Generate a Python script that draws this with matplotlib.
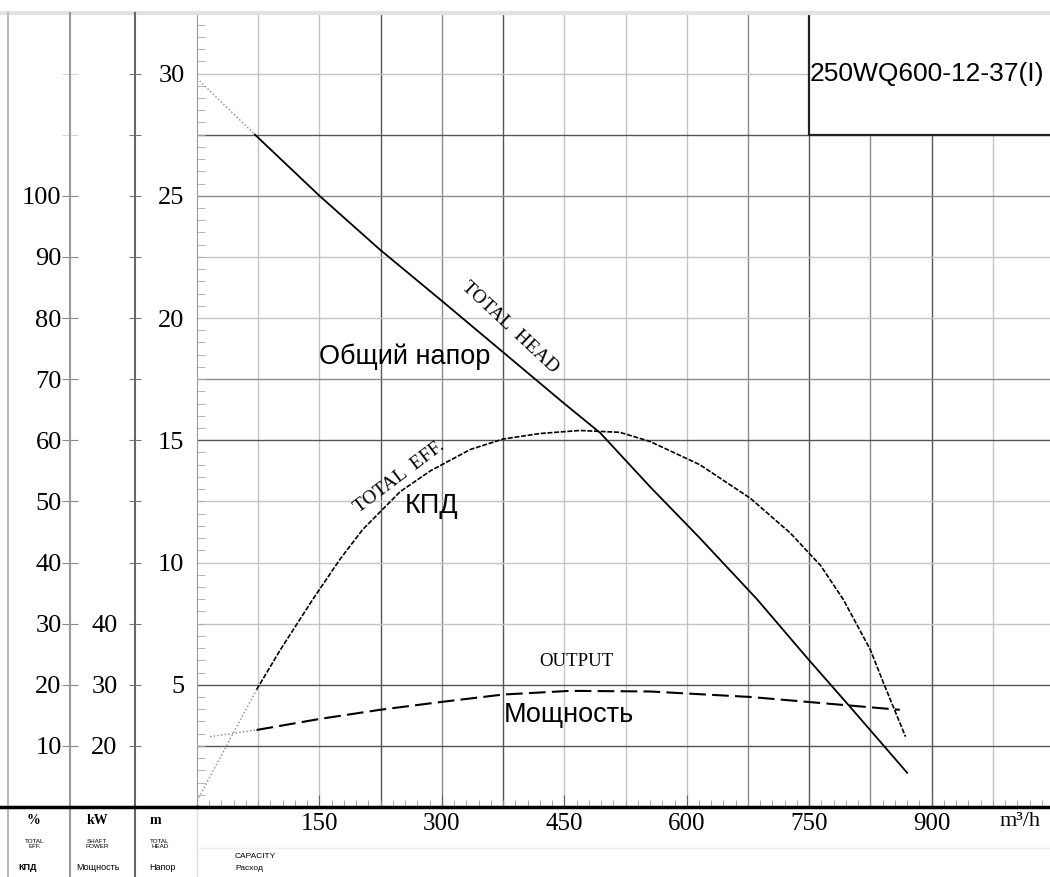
#%%
"""
250WQ600-12-37(I) pump curve: head, efficiency and power vs capacity.
"""

#%%

import matplotlib.pyplot as plt
from matplotlib.ticker import MultipleLocator, FixedLocator

# Head curve (m)
flow_head = [0, 71, 150, 224, 300, 375, 450, 494, 555, 616, 686, 750, 800, 870]
head = [29.8, 27.5, 25.0, 22.8, 20.7, 18.6, 16.5, 15.3, 13.1, 11.0, 8.5, 6.0, 4.1, 1.4]

# Efficiency curve (%)
flow_eff = [0, 73, 102, 142, 175, 203, 249, 286, 335, 375, 420, 469, 518, 555,
            616, 678, 727, 764, 792, 825, 841, 868]
eff = [1, 19.2, 25.7, 34.0, 40.5, 45.4, 51.6, 55.0, 58.5, 60.2, 61.1, 61.6, 61.3, 59.8,
       56.0, 50.5, 44.8, 39.5, 33.9, 25.7, 20.3, 11.5]

# Power curve (kW)
flow_pow = [16, 73, 150, 224, 300, 375, 457, 555, 678, 800, 861]
power = [21.5, 22.6, 24.4, 25.9, 27.2, 28.4, 29.0, 28.9, 28.0, 26.6, 25.9]

# Axis ticks
flow_ticks = [150, 300, 450, 600, 750, 900]
head_ticks = [5, 10, 15, 20, 25, 30]
eff_ticks = [10, 20, 30, 40, 50, 60, 70, 80, 90, 100]
kw_ticks = [20, 30, 40]

model = '250WQ600-12-37(I)'

# darker grid lines
dark_x = [225, 375, 750, 900]
mid_x = [300, 675, 825]
dark_y = [2.5, 5, 15, 27.5]
mid_y = [17.5, 25]

SERIF = 'Liberation Serif'
SANS = 'Liberation Sans'


# scales: eff and kW share the head axis
def eff_to_h(e):
    return e / 4.0


def h_to_eff(h):
    return h * 4.0


def kw_to_h(p):
    return (p - 10) / 4.0


def h_to_kw(h):
    return h * 4.0 + 10


#%%

W, H = 1050, 877
fig = plt.figure(figsize=(W / 100, H / 100), dpi=100)
ax = fig.add_axes([197 / W, (H - 807) / H, 853 / W, 794.6 / H])
ax.set_xlim(0, 1045)
ax.set_ylim(0, 32.5)

# grid
for k in range(1, 14):
    xv = 75 * k
    c = '#555555' if xv in dark_x else ('#8a8a8a' if xv in mid_x else '#c4c4c4')
    ax.axvline(xv, color=c, lw=1.0, zorder=1)
for k in range(1, 13):
    yv = 2.5 * k
    c = '#555555' if yv in dark_y else ('#8a8a8a' if yv in mid_y else '#c4c4c4')
    ax.axhline(yv, color=c, lw=1.0, zorder=1)

# model box
ax.fill_between([750, 1045], 27.5, 32.5, color='white', zorder=2)
ax.plot([750, 750, 1045], [32.5, 27.5, 27.5], color='#222222', lw=1.6, zorder=3)
ax.text(751, 30.0, model, family=SANS, fontsize=19, va='center', ha='left', zorder=4)

# curves
ax.plot(flow_head[:2], head[:2], color='#888888', lw=1.0, ls=':', zorder=5)
ax.plot(flow_head[1:], head[1:], color='black', lw=1.3, zorder=5)

eff_h = [eff_to_h(e) for e in eff]
ax.plot(flow_eff[:2], eff_h[:2], color='#888888', lw=1.0, ls=':', zorder=5)
ax.plot(flow_eff[1:], eff_h[1:], color='black', lw=1.2, ls=(0, (3, 1)), zorder=5)

pow_h = [kw_to_h(p) for p in power]
ax.plot(flow_pow[:2], pow_h[:2], color='#888888', lw=1.0, ls=':', zorder=5)
ax.plot(flow_pow[1:], pow_h[1:], color='black', lw=1.5, ls=(0, (8, 3)), zorder=5)

# curve labels
ax.text(384, 19.6, 'TOTAL  HEAD', family=SERIF, fontsize=14, rotation=-43,
        ha='center', va='center', zorder=6)
ax.text(255, 18.4, 'Общий напор', family=SANS, fontsize=19.5, ha='center', va='center', zorder=6)
ax.text(248, 13.5, 'TOTAL  EFF.', family=SERIF, fontsize=14, rotation=37,
        ha='center', va='center', zorder=6)
ax.text(287, 12.3, 'КПД', family=SANS, fontsize=19.5, ha='center', va='center', zorder=6)
ax.text(465, 5.95, 'OUTPUT', family=SERIF, fontsize=13.5, ha='center', va='center', zorder=6)
ax.text(455, 3.75, 'Мощность', family=SANS, fontsize=19.5, ha='center', va='center', zorder=6)

# axes styling
for s in ['top', 'right']:
    ax.spines[s].set_visible(False)
ax.spines['left'].set_color('#999999')
ax.spines['bottom'].set_color('black')
ax.spines['bottom'].set_linewidth(2.5)

ax.set_xticks(flow_ticks)
ax.set_xticklabels([str(v) for v in flow_ticks], family=SERIF, fontsize=18)
ax.xaxis.set_minor_locator(MultipleLocator(15))
ax.tick_params(axis='x', which='major', direction='in', length=9, color='#666666', pad=4)
ax.tick_params(axis='x', which='minor', direction='in', length=5, color='#999999')

ax.set_yticks(head_ticks)
ax.set_yticklabels([str(v) for v in head_ticks], family=SERIF, fontsize=19)
ax.yaxis.set_minor_locator(MultipleLocator(0.5))
ax.tick_params(axis='y', which='major', length=0, pad=9)
ax.tick_params(axis='y', which='minor', direction='in', length=6, color='#aaaaaa')

# efficiency scale
sec_eff = ax.secondary_yaxis((70 - 197) / 853, functions=(h_to_eff, eff_to_h))
sec_eff.yaxis.set_major_locator(FixedLocator(eff_ticks))
sec_eff.set_yticklabels([str(v) for v in eff_ticks], family=SERIF, fontsize=19)
sec_eff.yaxis.set_minor_locator(FixedLocator([110, 120]))
sec_eff.tick_params(which='both', direction='inout', length=11, color='#888888', pad=0.5)
sec_eff.tick_params(which='minor', color='#cccccc')
sec_eff.spines['left'].set_visible(False)

# power scale
kw_all = list(range(20, 140, 10))
sec_kw = ax.secondary_yaxis((135 - 197) / 853, functions=(h_to_kw, kw_to_h))
sec_kw.yaxis.set_major_locator(FixedLocator(kw_all))
sec_kw.set_yticklabels([str(v) if v in kw_ticks else '' for v in kw_all], family=SERIF, fontsize=19)
sec_kw.tick_params(direction='inout', length=9, color='#777777', pad=8)
sec_kw.spines['left'].set_visible(False)

#%%

# overlay for the frame of the left panel and the footer
ov = fig.add_axes([0, 0, 1, 1], zorder=10)
ov.set_xlim(0, W)
ov.set_ylim(H, 0)
ov.axis('off')
ov.patch.set_alpha(0)

ov.plot([0, W], [13, 13], color='#e2e2e2', lw=3)
ov.plot([8, 8], [13, H], color='#bbbbbb', lw=1.5)
ov.plot([70, 70], [13, H], color='#999999', lw=1.5)
ov.plot([135, 135], [13, H], color='#666666', lw=1.5)
ov.plot([197, 197], [807, H], color='#dddddd', lw=1.0)
ov.plot([197, W], [848, 848], color='#eeeeee', lw=1.0)
ov.plot([0, 197], [807, 807], color='black', lw=2.5)

ov.text(1020, 822, 'm³/h', family=SERIF, fontsize=16, ha='center', va='center')

ov.text(33, 821, '%', family=SERIF, fontsize=10, ha='center', va='center', weight='bold')
ov.text(97, 821, 'kW', family=SERIF, fontsize=10, ha='center', va='center', weight='bold')
ov.text(155, 821, 'm', family=SERIF, fontsize=10, ha='center', va='center', weight='bold')
ov.text(35, 844, 'TOTAL\nEFF.', family=SANS, fontsize=4.5, ha='center', va='center', linespacing=1.1)
ov.text(97, 844, 'SHAFT\nPOWER', family=SANS, fontsize=4.5, ha='center', va='center', linespacing=1.1)
ov.text(160, 844, 'TOTAL\nHEAD', family=SANS, fontsize=4.5, ha='center', va='center', linespacing=1.1)
ov.text(28, 867, 'КПД', family=SANS, fontsize=6.5, ha='center', va='center', weight='bold')
ov.text(98, 867, 'Мощность', family=SANS, fontsize=6.5, ha='center', va='center')
ov.text(162, 867, 'Напор', family=SANS, fontsize=6.5, ha='center', va='center')
ov.text(235, 857, 'CAPACITY', family=SANS, fontsize=6, ha='left', va='center')
ov.text(235, 869, 'Расход', family=SANS, fontsize=6, ha='left', va='center')

fig.savefig('out.png', dpi=100)
